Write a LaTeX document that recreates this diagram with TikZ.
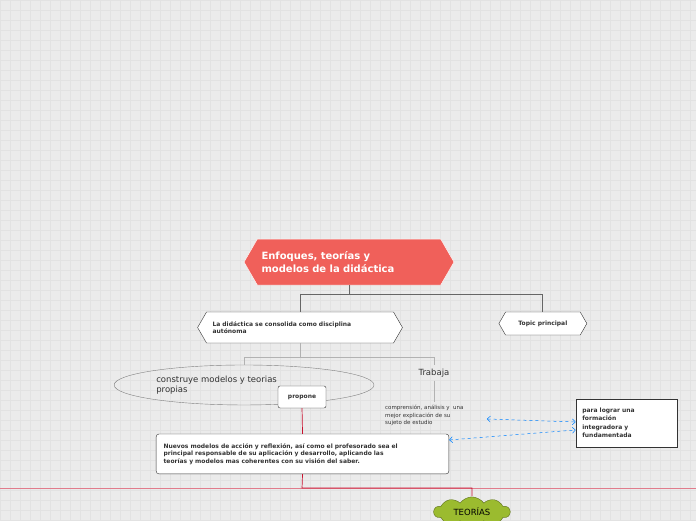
\documentclass[tikz,border=0pt]{standalone}
\usepackage{fontspec}
\setmainfont{DejaVu Sans}
\usetikzlibrary{shapes.symbols,shapes.geometric,arrows.meta}
\definecolor{bgc}{HTML}{EBEBEB}
\definecolor{gridc}{HTML}{E2E2E2}
\definecolor{titlec}{HTML}{F0605A}
\definecolor{linkc}{HTML}{C8102E}
\definecolor{cloudc}{HTML}{9BBB2F}
\definecolor{txtc}{HTML}{333333}
\tikzset{
  chev/.style={signal, signal to=west and east, draw=txtc, fill=white, text=txtc, font=\bfseries\fontsize{6}{7}\selectfont, align=left, inner sep=0pt, signal pointer angle=120},
  boxed/.style={draw=txtc, fill=white, text=txtc, font=\bfseries\fontsize{6}{7.5}\selectfont, align=left, inner sep=0pt},
  conn/.style={draw=gray!80!black, line width=0.8pt},
  redln/.style={draw=linkc, line width=0.7pt},
  blu/.style={draw=blue!50!cyan, dashed, {Straight Barb[length=3pt]}-{Straight Barb[length=3pt]}, line width=0.5pt}
}
\begin{document}
\begin{tikzpicture}[x=1pt,y=-1pt]
  \fill[bgc] (0,0) rectangle (696,520);
  \draw[gridc, step=10pt] (0,0) grid (696,520);
  \useasboundingbox (0,0) rectangle (696,520);
  % top level
  \node[chev, fill=titlec, draw=white, text=white, font=\bfseries\fontsize{10}{13}\selectfont, minimum width=210pt, minimum height=46pt, text width=175pt] (main) at (349,262) {Enfoques, teorías y\\modelos de la didáctica};
  \node[chev, minimum width=205pt, minimum height=31pt, text width=175pt] (disc) at (300,327.5) {La didáctica se consolida como disciplina\\autónoma};
  \node[chev, minimum width=88pt, minimum height=23pt, text width=70pt, align=center] (topic) at (543,323.5) {Topic principal};
  \draw[conn] (main.south) -- (349,294) -- (300,294) -- (disc.north);
  \draw[conn] (349,294) -- (543,294) -- (topic.north);
  % second level
  \node[ellipse, draw=gray, minimum width=260pt, minimum height=40pt, inner sep=0pt] (mod) at (244,385) {};
  \node[text=txtc, font=\fontsize{8.5}{10}\selectfont, align=left, anchor=west, inner sep=0pt] (modt) at (156,385) {construye modelos y teorias\\propias};
  \node[text=txtc, font=\fontsize{8.5}{10}\selectfont] (trab) at (434,373) {Trabaja};
  \draw[conn, draw=gray!60] (disc.south) -- (300,357) -- (244,357) -- (mod.north);
  \draw[conn, draw=gray!60] (300,357) -- (434,357) -- (trab.north);
  \coordinate (trabend) at (434,402);
  \draw[conn, draw=gray!60] (trab.south) -- (trabend);
  \node[text=txtc, font=\fontsize{5.5}{7.5}\selectfont, align=left, anchor=north west, inner sep=0pt] (compr) at (385,405) {comprensión, análisis y~ una\\mejor explicación de su\\sujeto de estudio};
  \node[boxed, rounded corners=2pt, minimum width=48pt, minimum height=22pt, align=center] (prop) at (302,397) {propone};
  \node[boxed, rounded corners=3pt, minimum width=293pt, minimum height=40pt, text width=278pt] (nuev) at (302.5,454) {Nuevos modelos de acción y reflexión, así como el profesorado sea el\\principal responsable de su aplicación y desarrollo, aplicando las\\teorías y modelos mas coherentes con su visión del saber.};
  \node[boxed, minimum width=101pt, minimum height=48pt, text width=88pt, font=\bfseries\fontsize{6}{8.5}\selectfont] (para) at (626.5,423) {para lograr una\\formación\\integradora y\\fundamentada};
  \draw[redln] (prop.south) -- (nuev.north);
  % bottom
  \draw[linkc!55, line width=0.6pt] (0,488) -- (696,488);
  \draw[redln] (nuev.south) -- (302,488) -- (472,488) -- (472,496);
  \node[cloud, cloud puffs=10, cloud puff arc=110, aspect=2.6, draw=cloudc!60!black, fill=cloudc, inner sep=0pt, minimum width=76pt, minimum height=30pt, font=\fontsize{8.5}{10}\selectfont] (teor) at (472,512) {TEORÍAS};
  % relations
  \coordinate (cmpR) at (487,419);
  \draw[blu] (cmpR) -- (para.west |- 0,422);
  \draw[blu] (nuev.east |- 0,440) -- (para.west |- 0,430);
\end{tikzpicture}
\end{document}
